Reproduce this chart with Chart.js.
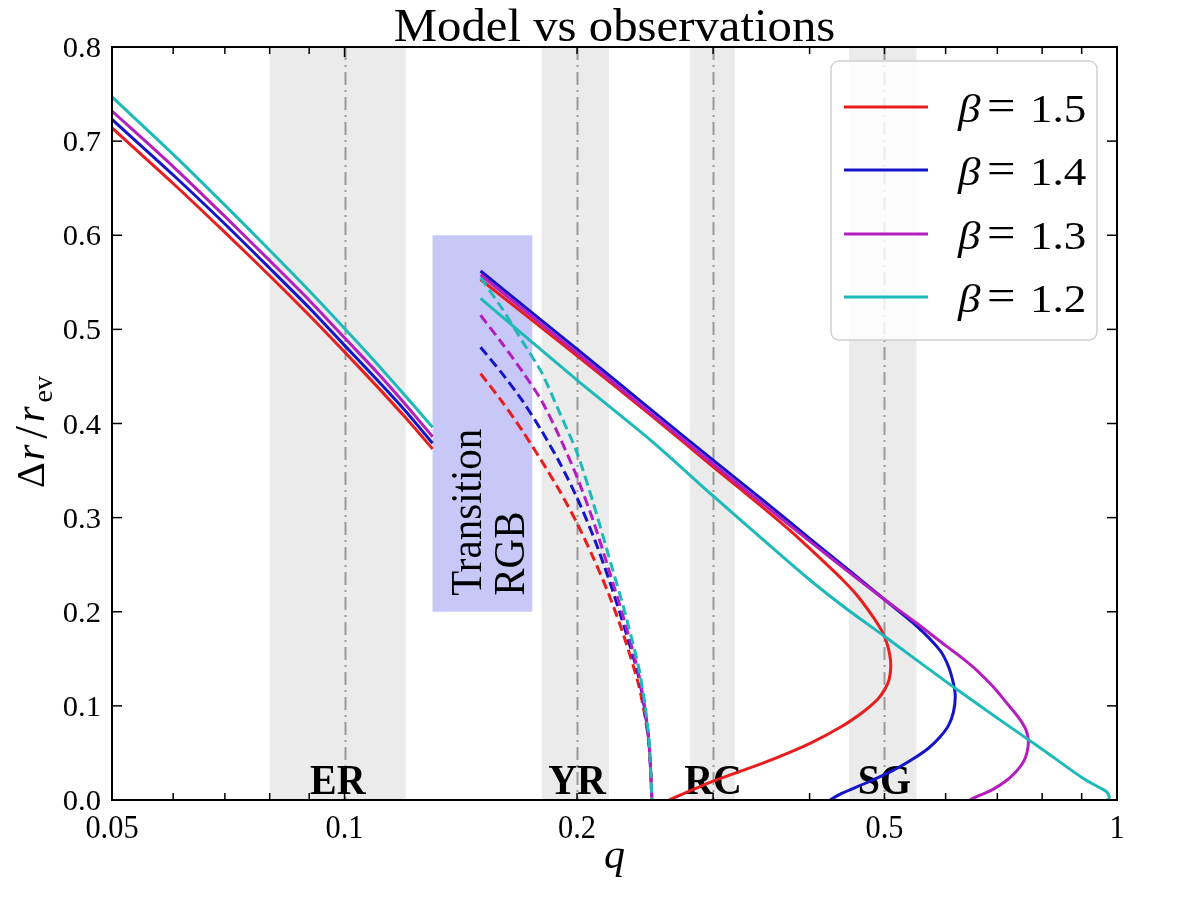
<!DOCTYPE html>
<html><head><meta charset="utf-8">
<script src="https://cdn.jsdelivr.net/npm/chart.js@4.4.1/dist/chart.umd.min.js"></script>
<style>html,body{margin:0;padding:0;background:#fff;overflow:hidden}#wrap{width:1196px;height:909px}</style>
</head><body><div id="wrap"><canvas id="c" width="1196" height="909"></canvas></div>
<script>
// ---------------- data ----------------
const titleText = 'Model vs observations';
const betaValues = ['1.5', '1.4', '1.3', '1.2'];
const seriesColors = ['#e81e1e', '#1414c8', '#b41ebe', '#1eb9b9'];

const xTickValues = [0.05, 0.1, 0.2, 0.5, 1];
const xTickLabels = ['0.05', '0.1', '0.2', '0.5', '1'];
const xMinorTicks = [0.06, 0.07, 0.08, 0.09, 0.2, 0.3, 0.4, 0.5, 0.6, 0.7, 0.8, 0.9];
const yTickValues = [0, 0.1, 0.2, 0.3, 0.4, 0.5, 0.6, 0.7, 0.8];
const yTickLabels = ['0.0', '0.1', '0.2', '0.3', '0.4', '0.5', '0.6', '0.7', '0.8'];

// shaded observation bands and their centre lines
const bandRanges = [[0.08, 0.12], [0.18, 0.22], [0.28, 0.32], [0.45, 0.55]];
const bandCenters = [0.1, 0.2, 0.3, 0.5];
const bandLabels = ['ER', 'YR', 'RC', 'SG'];
const bandLabelQ = [0.098, 0.2, 0.3, 0.5];
// transition box: q range, y range
const transQ = [0.13, 0.175];
const transY = [0.2, 0.6];
const transLines = ['Transition', 'RGB'];

// left solid branch (q < 0.13)
const qLeft  = [0.05, 0.06, 0.07, 0.08, 0.09, 0.10, 0.11, 0.12, 0.13];
const leftR  = [0.714, 0.655, 0.603, 0.557, 0.515, 0.476, 0.440, 0.406, 0.373];
const leftB  = [0.723, 0.664, 0.612, 0.565, 0.523, 0.483, 0.447, 0.413, 0.379];
const leftM  = [0.732, 0.673, 0.620, 0.573, 0.531, 0.491, 0.455, 0.420, 0.386];
const leftC  = [0.747, 0.686, 0.632, 0.584, 0.541, 0.501, 0.464, 0.429, 0.396];

// dashed branch (0.15 .. 0.25)
const qDash  = [0.15, 0.16, 0.17, 0.18, 0.19, 0.20, 0.21, 0.22, 0.23, 0.24, 0.245, 0.248, 0.25];
const dashR  = [0.453, 0.423, 0.392, 0.360, 0.328, 0.294, 0.257, 0.218, 0.174, 0.124, 0.088, 0.056, 0.0];
const dashB  = [0.481, 0.453, 0.424, 0.392, 0.358, 0.321, 0.280, 0.234, 0.185, 0.133, 0.093, 0.058, 0.0];
const dashM  = [0.515, 0.485, 0.455, 0.424, 0.385, 0.343, 0.296, 0.244, 0.192, 0.136, 0.095, 0.059, 0.0];
const dashC  = [0.555, 0.522, 0.487, 0.454, 0.411, 0.369, 0.315, 0.258, 0.203, 0.143, 0.100, 0.062, 0.0];

// upper solid branch (folds back on itself)
const upRq = [0.15, 0.2, 0.25, 0.3, 0.35, 0.38, 0.41, 0.44, 0.46, 0.48, 0.495, 0.503, 0.508, 0.5095, 0.507, 0.5, 0.49, 0.47, 0.44, 0.4, 0.35, 0.3, 0.263];
const upRy = [0.553, 0.472, 0.408, 0.354, 0.309, 0.284, 0.259, 0.235, 0.218, 0.198, 0.181, 0.168, 0.154, 0.142, 0.128, 0.117, 0.107, 0.094, 0.078, 0.060, 0.040, 0.020, 0.0];
const upBq = [0.15, 0.2, 0.25, 0.3, 0.35, 0.4, 0.45, 0.5, 0.55, 0.59, 0.605, 0.614, 0.6175, 0.614, 0.605, 0.59, 0.57, 0.55, 0.52, 0.5, 0.47, 0.44, 0.425];
const upBy = [0.562, 0.479, 0.414, 0.361, 0.317, 0.278, 0.244, 0.213, 0.185, 0.159, 0.142, 0.124, 0.110, 0.093, 0.079, 0.067, 0.055, 0.046, 0.034, 0.027, 0.017, 0.007, 0.0];
const upMq = [0.15, 0.2, 0.25, 0.3, 0.35, 0.4, 0.45, 0.5, 0.55, 0.6, 0.63, 0.66, 0.69, 0.72, 0.745, 0.76, 0.766, 0.768, 0.765, 0.757, 0.74, 0.72, 0.69, 0.66, 0.645];
const upMy = [0.558, 0.475, 0.410, 0.357, 0.313, 0.275, 0.242, 0.213, 0.188, 0.164, 0.151, 0.137, 0.121, 0.103, 0.088, 0.077, 0.069, 0.062, 0.051, 0.041, 0.030, 0.021, 0.011, 0.004, 0.0];
const upCq = [0.15, 0.2, 0.25, 0.3, 0.35, 0.4, 0.45, 0.5, 0.6, 0.7, 0.8, 0.9, 0.96, 0.97, 0.977, 0.975, 0.97];
const upCy = [0.533, 0.446, 0.381, 0.323, 0.275, 0.234, 0.201, 0.174, 0.126, 0.087, 0.054, 0.024, 0.011, 0.0085, 0.0035, 0.0008, 0.0];

// ---------------- build ----------------
const zipXY = (xs, ys) => xs.map((x, i) => ({x: x, y: ys[i]}));
const leftSets = [leftR, leftB, leftM, leftC];
const dashSets = [dashR, dashB, dashM, dashC];
const upSets = [[upRq, upRy], [upBq, upBy], [upMq, upMy], [upCq, upCy]];

const datasets = [];
for (let i = 0; i < 4; i++) {
  const base = {borderColor: seriesColors[i], backgroundColor: seriesColors[i], pointRadius: 0,
    borderWidth: 3, fill: false, tension: 0.25, order: 4 - i};
  datasets.push(Object.assign({label: 'left ' + betaValues[i], data: zipXY(qLeft, leftSets[i])}, base));
  datasets.push(Object.assign({label: 'dash ' + betaValues[i], data: zipXY(qDash, dashSets[i]), borderDash: [10, 5]}, base));
  datasets.push(Object.assign({label: 'up ' + betaValues[i], data: zipXY(upSets[i][0], upSets[i][1])}, base));
}

const SERIF = '"Liberation Serif", "DejaVu Serif", serif';

function txt(ctx, s, x, y, font, align, base, sx, rot) {
  ctx.save();
  ctx.translate(x, y);
  ctx.scale(sx, 1);
  if (rot) ctx.rotate(rot);
  ctx.font = font;
  ctx.textAlign = align;
  ctx.textBaseline = base;
  ctx.fillStyle = '#000';
  ctx.fillText(s, 0, 0);
  ctx.restore();
}

const decor = {
  id: 'decor',
  beforeDatasetsDraw(chart) {
    const {ctx, chartArea: a, scales: {x, y}} = chart;
    ctx.save();
    ctx.beginPath(); ctx.rect(a.left, a.top, a.right - a.left, a.bottom - a.top); ctx.clip();
    ctx.fillStyle = '#ebebeb';
    bandRanges.forEach(r => {
      const x0 = x.getPixelForValue(r[0]), x1 = x.getPixelForValue(r[1]);
      ctx.fillRect(x0, a.top, x1 - x0, a.bottom - a.top);
    });
    const tx0 = x.getPixelForValue(transQ[0]), tx1 = x.getPixelForValue(transQ[1]);
    const ty0 = y.getPixelForValue(transY[1]), ty1 = y.getPixelForValue(transY[0]);
    ctx.fillStyle = '#c8c8f8';
    ctx.fillRect(tx0, ty0, tx1 - tx0, ty1 - ty0);
    ctx.strokeStyle = '#9a9a9a'; ctx.lineWidth = 2; ctx.setLineDash([13, 5, 2, 5]);
    bandCenters.forEach(c => {
      const px = Math.round(x.getPixelForValue(c)) + 0.5;
      ctx.beginPath(); ctx.moveTo(px, a.top); ctx.lineTo(px, a.bottom); ctx.stroke();
    });
    ctx.setLineDash([]);
    const tcx = (tx0 + tx1) / 2;
    txt(ctx, transLines[0], tcx - 1, ty1 - 16, '41px ' + SERIF, 'left', 'alphabetic', 1.08, -Math.PI / 2);
    txt(ctx, transLines[1], tcx + 42, ty1 - 16, '41px ' + SERIF, 'left', 'alphabetic', 1.08, -Math.PI / 2);
    bandLabels.forEach((l, i) => {
      txt(ctx, l, x.getPixelForValue(bandLabelQ[i]), a.bottom - 6, 'bold 43px ' + SERIF, 'center', 'alphabetic', 0.93, 0);
    });
    ctx.restore();
  },
  afterDatasetsDraw(chart) {
    const {ctx, chartArea: a, scales: {x, y}} = chart;
    ctx.save();
    ctx.strokeStyle = '#000'; ctx.lineWidth = 1.5;
    const seg = (x0, y0, x1, y1) => { ctx.beginPath(); ctx.moveTo(x0, y0); ctx.lineTo(x1, y1); ctx.stroke(); };
    [0.1, 1].forEach(v => { const p = x.getPixelForValue(v); seg(p, a.bottom, p, a.bottom - 10); seg(p, a.top, p, a.top + 10); });
    xMinorTicks.forEach(v => { const p = x.getPixelForValue(v); seg(p, a.bottom, p, a.bottom - 7); seg(p, a.top, p, a.top + 7); });
    yTickValues.forEach(v => { const p = y.getPixelForValue(v); seg(a.left, p, a.left + 10, p); seg(a.right, p, a.right - 10, p); });
    ctx.lineWidth = 2;
    ctx.strokeRect(a.left, a.top, a.right - a.left, a.bottom - a.top);
    // tick labels
    xTickValues.forEach((v, i) => {
      txt(ctx, xTickLabels[i], x.getPixelForValue(v), a.bottom + 38, '33px ' + SERIF, 'center', 'alphabetic', 0.92, 0);
    });
    yTickValues.forEach((v, i) => {
      txt(ctx, yTickLabels[i], a.left - 11, y.getPixelForValue(v) + 10, '30px ' + SERIF, 'right', 'alphabetic', 1.02, 0);
    });
    // legend
    const L = {x0: 831, y0: 61, x1: 1097, y1: 340, r: 8};
    ctx.beginPath();
    ctx.roundRect(L.x0, L.y0, L.x1 - L.x0, L.y1 - L.y0, L.r);
    ctx.fillStyle = 'rgba(255,255,255,0.82)'; ctx.fill();
    ctx.strokeStyle = '#d0d0d0'; ctx.lineWidth = 1.5; ctx.stroke();
    const rows = [107, 170, 234, 297];
    betaValues.forEach((v, i) => {
      const yy = rows[i];
      ctx.strokeStyle = seriesColors[i]; ctx.lineWidth = 3;
      seg(844, yy, 928, yy);
      txt(ctx, 'β', 958, yy + 15, 'italic 41px ' + SERIF, 'left', 'alphabetic', 1.1, 0);
      txt(ctx, '=', 987, yy + 13, '44px ' + SERIF, 'left', 'alphabetic', 1.15, 0);
      txt(ctx, v, 1030, yy + 15, '41px ' + SERIF, 'left', 'alphabetic', 1.1, 0);
    });
    ctx.restore();
  },
  afterDraw(chart) {
    const {ctx, chartArea: a} = chart;
    const cx = (a.left + a.right) / 2;
    txt(ctx, titleText, cx, 41, '46px ' + SERIF, 'center', 'alphabetic', 1.06, 0);
    txt(ctx, 'q', cx, 868, 'italic 40px ' + SERIF, 'center', 'alphabetic', 1.05, 0);
    // y label: Δr/r_ev rotated (reads bottom to top)
    ctx.save();
    ctx.translate(44, 432);
    ctx.scale(1.0, 1);
    ctx.rotate(-Math.PI / 2);
    ctx.fillStyle = '#000'; ctx.textBaseline = 'alphabetic'; ctx.textAlign = 'left';
    const parts = [['Δ', '40px ', 0, 2], ['r', 'italic 40px ', 0, 6], ['/', '46px ', 3, 4], ['r', 'italic 40px ', 0, 4], ['ev', '28px ', 8, 0]];
    let w = 0;
    parts.forEach(p => { ctx.font = p[1] + SERIF; w += ctx.measureText(p[0]).width + p[3]; });
    let px = -w / 2;
    parts.forEach(p => { ctx.font = p[1] + SERIF; ctx.fillText(p[0], px, p[2]); px += ctx.measureText(p[0]).width + p[3]; });
    ctx.restore();
  }
};

new Chart(document.getElementById('c'), {
  type: 'line',
  data: {datasets: datasets},
  options: {
    responsive: false, animation: false, events: [],
    layout: {padding: {left: 0, top: 47, right: 79, bottom: 0}},
    plugins: {legend: {display: false}, tooltip: {enabled: false}, title: {display: false}},
    scales: {
      x: {
        type: 'logarithmic', min: 0.05, max: 1,
        afterBuildTicks: s => { s.ticks = xTickValues.map(v => ({value: v})); },
        afterFit: s => { s.height = 109; },
        grid: {display: false}, border: {display: false},
        ticks: {display: false}
      },
      y: {
        type: 'linear', min: 0, max: 0.8,
        afterBuildTicks: s => { s.ticks = yTickValues.map(v => ({value: v})); },
        afterFit: s => { s.width = 112; },
        grid: {display: false}, border: {display: false},
        ticks: {display: false}
      }
    }
  },
  plugins: [decor]
});
</script>
</body></html>
